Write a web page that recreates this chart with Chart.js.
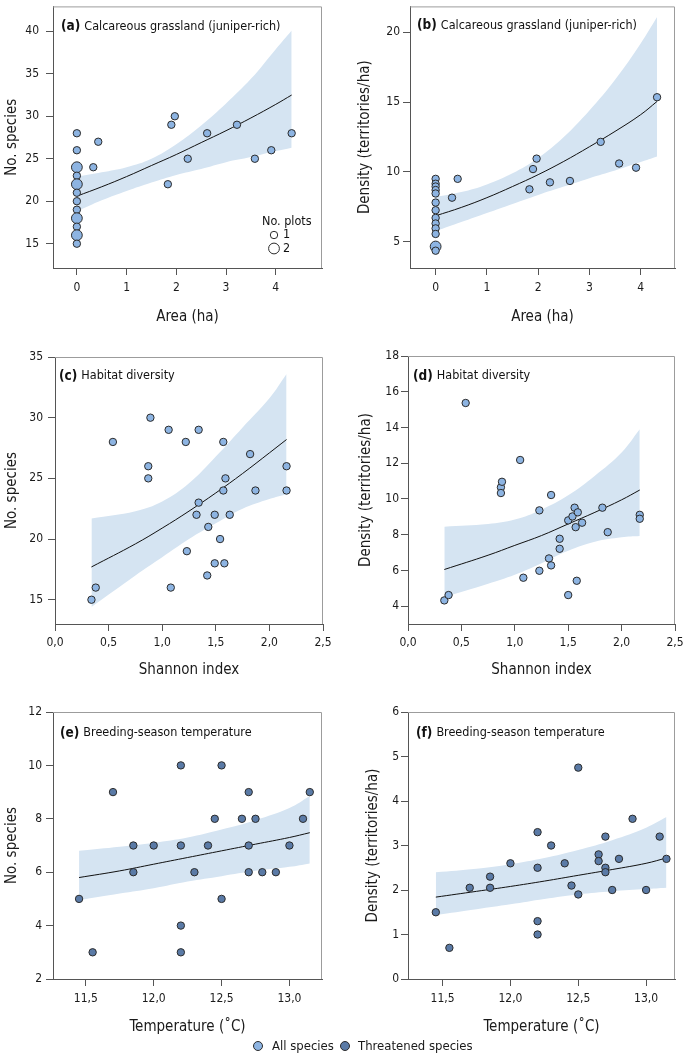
<!DOCTYPE html>
<html>
<head>
<meta charset="utf-8">
<script src="https://cdn.jsdelivr.net/npm/chart.js@4.4.1/dist/chart.umd.min.js"></script>
<style>
  body { margin:0; background:#fff; width:685px; height:1055px; position:relative; overflow:hidden;
         font-family:"DejaVu Sans Condensed","DejaVu Sans",sans-serif; color:#1a1a1a; }
  canvas { position:absolute; }
  .dot { position:absolute; width:8px; height:8px; border:1px solid #2b2b2b; border-radius:50%; }
  .lab { position:absolute; font-size:13px; line-height:16px; }
</style>
</head>
<body>
<canvas id="pa"></canvas>
<canvas id="pb"></canvas>
<canvas id="pc"></canvas>
<canvas id="pd"></canvas>
<canvas id="pe"></canvas>
<canvas id="pf"></canvas>

<div class="dot" style="left:253px;top:1041px;background:#8db4e2"></div>
<div class="lab" style="left:272px;top:1038px">All species</div>
<div class="dot" style="left:340px;top:1041px;background:#5a7aa6"></div>
<div class="lab" style="left:358px;top:1038px">Threatened species</div>

<script>
const FONT = '"DejaVu Sans Condensed","DejaVu Sans",sans-serif';
const ALL = '#8db4e2', THR = '#5a7aa6', BAND = '#d5e4f2', EDGE = '#2b2b2b', AXIS = '#555';

// (a) no. species vs calcareous grassland area
const areaA    = [0,0,0,0,0,0,0,0,0,0,0,0, 0.33,0.43,1.83,1.90,1.97,2.23,2.62,3.22,3.58,3.91,4.32];
const speciesA = [28,26,24,23,22,21,20,19,18,17,16,15, 24,27,22,29,30,25,28,29,25,26,28];
const plotsA   = [1,1,2,1,2,1,1,1,2,1,2,1, 1,1,1,1,1,1,1,1,1,1,1];
const fitAreaA  = [0, 0.5, 1, 1.5, 2, 2.5, 3, 3.5, 4, 4.32];
const fitSpeciesA = [20.6, 21.7, 22.9, 24.2, 25.5, 26.9, 28.3, 29.8, 31.4, 32.5];
const loSpeciesA  = [18.8, 20.1, 21.2, 22.2, 23.1, 23.8, 24.6, 25.2, 25.9, 26.3];
const hiSpeciesA  = [22.9, 23.4, 24.0, 25.0, 26.7, 28.9, 31.5, 34.4, 37.9, 40.1];

// (b) density vs calcareous grassland area
const areaB    = [0,0,0,0,0,0,0,0,0,0,0,0,0, 0.32,0.43,1.83,1.90,1.97,2.23,2.62,3.22,3.58,3.91,4.32];
const densityB = [9.5,9.15,8.95,8.7,8.45,7.8,7.25,6.7,6.3,5.95,5.55,4.65,4.35, 8.15,9.5,8.75,10.2,10.95,9.25,9.35,12.15,10.6,10.3,15.35];
const plotsB   = [1,1,1,1,1,1,1,1,1,1,1,2,1, 1,1,1,1,1,1,1,1,1,1,1];
const fitAreaB   = [0, 0.5, 1, 1.5, 2, 2.5, 3, 3.5, 4, 4.32];
const fitDensityB = [6.85, 7.45, 8.15, 8.95, 9.8, 10.75, 11.8, 12.9, 14.1, 15.05];
const loDensityB  = [5.75, 6.4, 7.05, 7.7, 8.35, 8.95, 9.55, 10.1, 10.7, 11.1];
const hiDensityB  = [8.2, 8.55, 9.1, 9.9, 11.0, 12.5, 14.4, 16.6, 19.2, 21.1];

// (c) no. species vs habitat diversity
const shannonC = [0.34,0.38,0.54,0.87,0.87,0.89,1.06,1.08,1.22,1.23,1.32,1.34,1.34,1.42,1.43,1.49,1.49,1.54,1.57,1.57,1.58,1.59,1.63,1.82,1.87,2.16,2.16];
const speciesC = [15,16,28,26,25,30,29,16,28,19,22,23,29,17,21,22,18,20,28,24,18,25,22,27,24,26,24];
const fitShannonC = [0.34, 0.75, 1.0, 1.25, 1.5, 1.75, 2.0, 2.16];
const fitSpeciesC = [17.7, 19.6, 20.9, 22.3, 23.8, 25.4, 27.1, 28.2];
const loSpeciesC  = [14.4, 17.0, 18.5, 20.0, 21.3, 22.5, 23.3, 23.7];
const hiSpeciesC  = [21.7, 22.3, 23.1, 24.6, 26.8, 29.2, 31.6, 33.6];

// (d) density vs habitat diversity
const shannonD = [0.34,0.38,0.54,0.87,0.87,0.88,1.05,1.08,1.23,1.23,1.32,1.34,1.34,1.42,1.42,1.50,1.50,1.54,1.56,1.57,1.58,1.59,1.63,1.82,1.87,2.17,2.17];
const densityD = [4.32,4.62,15.37,10.65,10.33,10.96,12.18,5.59,9.36,5.98,6.67,6.28,10.22,7.77,7.21,8.80,4.62,9.02,9.51,8.42,5.42,9.25,8.67,9.51,8.14,9.11,8.89];
const fitShannonD = [0.34, 0.75, 1.0, 1.25, 1.5, 1.75, 2.0, 2.17];
const fitDensityD = [6.05, 6.85, 7.4, 7.95, 8.6, 9.25, 9.95, 10.5];
const loDensityD  = [4.5, 5.25, 5.75, 6.4, 7.1, 7.6, 7.85, 7.92];
const hiDensityD  = [8.45, 8.6, 8.85, 9.4, 10.2, 11.3, 12.6, 13.9];

// (e) no. threatened species vs breeding-season temperature
const tempE    = [11.45,11.55,11.70,11.85,11.85,12.0,12.2,12.2,12.2,12.2,12.3,12.4,12.45,12.5,12.5,12.65,12.7,12.7,12.7,12.75,12.8,12.9,13.0,13.1,13.15];
const speciesE = [5,3,9,7,6,7,10,7,4,3,6,7,8,10,5,8,9,7,6,8,6,6,7,8,9];
const fitTempE    = [11.45, 11.75, 12.0, 12.25, 12.5, 12.75, 13.0, 13.15];
const fitSpeciesE = [5.8, 6.05, 6.3, 6.55, 6.8, 7.05, 7.3, 7.48];
const loSpeciesE  = [4.95, 5.2, 5.4, 5.65, 5.85, 6.05, 6.2, 6.33];
const hiSpeciesE  = [6.8, 6.95, 7.1, 7.3, 7.6, 7.95, 8.4, 8.85];

// (f) threatened density vs breeding-season temperature
const tempF    = [11.45,11.55,11.70,11.85,11.85,12.0,12.2,12.2,12.2,12.2,12.3,12.4,12.45,12.5,12.5,12.65,12.65,12.7,12.7,12.7,12.75,12.8,12.9,13.0,13.1,13.15];
const densityF = [1.5,0.7,2.05,2.3,2.05,2.6,3.3,2.5,1.3,1.0,3.0,2.6,2.1,4.75,1.9,2.8,2.65,3.2,2.5,2.4,2.0,2.7,3.6,2.0,3.2,2.7];
const fitTempF    = [11.45, 11.75, 12.0, 12.25, 12.5, 12.75, 13.0, 13.15];
const fitDensityF = [1.84, 1.97, 2.08, 2.2, 2.33, 2.46, 2.6, 2.72];
const loDensityF  = [1.44, 1.57, 1.68, 1.8, 1.9, 1.97, 2.02, 2.05];
const hiDensityF  = [2.4, 2.48, 2.58, 2.72, 2.9, 3.12, 3.4, 3.64];

// tick values
const ticksArea     = [0, 1, 2, 3, 4];
const ticksShannon  = [0, 0.5, 1, 1.5, 2, 2.5];
const ticksTemp     = [11.5, 12, 12.5, 13];
const ticksSpeciesA = [15, 20, 25, 30, 35, 40];
const ticksDensityB = [5, 10, 15, 20];
const ticksSpeciesC = [15, 20, 25, 30, 35];
const ticksDensityD = [4, 6, 8, 10, 12, 14, 16, 18];
const ticksSpeciesE = [2, 4, 6, 8, 10, 12];
const ticksDensityF = [0, 1, 2, 3, 4, 5, 6];

Chart.defaults.font.family = FONT;
Chart.defaults.color = '#1a1a1a';

const fmt = (v, d) => Number(v).toFixed(d).replace('.', ',');
const pts = (xs, ys) => xs.map((x, i) => ({x, y: ys[i]}));
const sizeOf = n => (n === 2 ? 5.4 : 3.7);

// frame, panel heading, size key
const deco = {
  id: 'deco',
  afterDraw(chart, args, o) {
    const {ctx, chartArea: a} = chart;
    ctx.save();
    ctx.strokeStyle = '#9c9c9c';
    ctx.lineWidth = 1;
    ctx.beginPath();
    ctx.moveTo(a.left, a.top + 0.5);
    ctx.lineTo(a.right - 0.5, a.top + 0.5);
    ctx.lineTo(a.right - 0.5, a.bottom);
    ctx.stroke();

    ctx.fillStyle = '#111';
    ctx.textBaseline = 'middle';
    ctx.font = 'bold 13.5px ' + FONT;
    const x = a.left + o.tx, y = a.top + o.ty;
    ctx.fillText(o.tag, x, y);
    const w = ctx.measureText(o.tag).width;
    ctx.font = '12.5px ' + FONT;
    ctx.fillText(o.title, x + w + 4, y);

    if (o.sizeKey) {
      ctx.fillText('No. plots', a.right - 60, a.bottom - 46);
      [1, 2].forEach((n, i) => {
        const cy = a.bottom - (i ? 19.5 : 33);
        ctx.beginPath();
        ctx.arc(a.right - 48, cy, sizeOf(n), 0, Math.PI * 2);
        ctx.fillStyle = '#fff';
        ctx.fill();
        ctx.strokeStyle = EDGE;
        ctx.stroke();
        ctx.fillStyle = '#111';
        ctx.fillText(String(n), a.right - 39, cy);
      });
    }
    ctx.restore();
  }
};

function panel(p) {
  const cv = document.getElementById(p.id);
  const [cl, ct, cw, ch] = p.box;
  const [L, T, R, B] = p.area;
  cv.width = cw; cv.height = ch;
  cv.style.left = cl + 'px'; cv.style.top = ct + 'px';
  const line = {showLine: true, pointRadius: 0, tension: 0.4};
  new Chart(cv, {
    type: 'scatter',
    data: {datasets: [
      {data: pts(p.x, p.y), backgroundColor: p.color, borderColor: EDGE, borderWidth: 1,
       pointRadius: p.plots ? c => sizeOf(p.plots[c.dataIndex]) : 3.7},
      {...line, data: pts(p.fx, p.fy), borderColor: '#111', borderWidth: 1},
      {...line, data: pts(p.fx, p.lo), borderColor: 'rgba(0,0,0,0)', borderWidth: 0},
      {...line, data: pts(p.fx, p.hi), borderColor: 'rgba(0,0,0,0)', borderWidth: 0,
       fill: '-1', backgroundColor: BAND}
    ]},
    options: {
      responsive: false, animation: false, events: [],
      layout: {padding: {left: 0, top: T - ct, right: cl + cw - R, bottom: 0}},
      plugins: {legend: {display: false}, tooltip: {enabled: false},
                deco: {tag: p.tag, title: p.title, tx: p.tx, ty: p.ty, sizeKey: p.id === 'pa'}},
      scales: {
        x: {
          type: 'linear', min: p.xr[0], max: p.xr[1],
          afterBuildTicks: s => { s.ticks = p.xt.map(v => ({value: v})); },
          afterFit: s => { s.height = ct + ch - B; s.paddingLeft = 0; s.paddingRight = 0; },
          ticks: {callback: v => fmt(v, p.xd), padding: p.xpad, font: {size: 12}, maxRotation: 0, autoSkip: false},
          grid: {drawOnChartArea: false, tickLength: 7, color: AXIS},
          border: {color: AXIS},
          title: {display: true, text: p.xtitle, font: {size: 15}, padding: {top: 0, bottom: p.xtpad}}
        },
        y: {
          min: p.yr[0], max: p.yr[1],
          afterBuildTicks: s => { s.ticks = p.yt.map(v => ({value: v})); },
          afterFit: s => { s.width = L - cl; s.paddingTop = 0; s.paddingBottom = 0; },
          ticks: {callback: v => fmt(v, 0), padding: p.ypad, font: {size: 12}, autoSkip: false},
          grid: {drawOnChartArea: false, tickLength: 7, color: AXIS},
          border: {color: AXIS},
          title: {display: true, text: p.ytitle, font: {size: 15}, padding: {top: p.ytpad, bottom: 0}}
        }
      }
    },
    plugins: [deco]
  });
}

const DENS = 'Density (territories/ha)';

panel({id: 'pa', box: [0, 0, 340, 330], area: [53, 2, 322, 268],
  x: areaA, y: speciesA, plots: plotsA, color: ALL,
  fx: fitAreaA, fy: fitSpeciesA, lo: loSpeciesA, hi: hiSpeciesA,
  xr: [-0.48, 4.93], yr: [12.14, 42.93], xt: ticksArea, yt: ticksSpeciesA, xd: 0,
  xtitle: 'Area (ha)', ytitle: 'No. species', xpad: 6, ypad: 7, xtpad: 4, ytpad: 3,
  tag: '(a)', title: 'Calcareous grassland (juniper-rich)', tx: 8, ty: 20});

panel({id: 'pb', box: [340, 0, 345, 330], area: [410, 3, 675, 268],
  x: areaB, y: densityB, plots: plotsB, color: ALL,
  fx: fitAreaB, fy: fitDensityB, lo: loDensityB, hi: hiDensityB,
  xr: [-0.5, 4.67], yr: [3.11, 21.86], xt: ticksArea, yt: ticksDensityB, xd: 0,
  xtitle: 'Area (ha)', ytitle: DENS, xpad: 6, ypad: 3, xtpad: 4, ytpad: 16,
  tag: '(b)', title: 'Calcareous grassland (juniper-rich)', tx: 7, ty: 19});

panel({id: 'pc', box: [0, 330, 340, 350], area: [55, 357, 323, 624],
  x: shannonC, y: speciesC, color: ALL,
  fx: fitShannonC, fy: fitSpeciesC, lo: loSpeciesC, hi: hiSpeciesC,
  xr: [0, 2.5], yr: [13, 35], xt: ticksShannon, yt: ticksSpeciesC, xd: 1,
  xtitle: 'Shannon index', ytitle: 'No. species', xpad: 5, ypad: 5, xtpad: 1, ytpad: 3,
  tag: '(c)', title: 'Habitat diversity', tx: 4, ty: 19});

panel({id: 'pd', box: [340, 330, 345, 350], area: [408, 356, 675, 624],
  x: shannonD, y: densityD, color: ALL,
  fx: fitShannonD, fy: fitDensityD, lo: loDensityD, hi: hiDensityD,
  xr: [0, 2.5], yr: [3, 18], xt: ticksShannon, yt: ticksDensityD, xd: 1,
  xtitle: 'Shannon index', ytitle: DENS, xpad: 5, ypad: 2, xtpad: 1, ytpad: 17,
  tag: '(d)', title: 'Habitat diversity', tx: 5, ty: 20});

panel({id: 'pe', box: [0, 685, 340, 360], area: [53, 712, 322, 979],
  x: tempE, y: speciesE, color: THR,
  fx: fitTempE, fy: fitSpeciesE, lo: loSpeciesE, hi: hiSpeciesE,
  xr: [11.258, 13.24], yr: [2, 12], xt: ticksTemp, yt: ticksSpeciesE, xd: 1,
  xtitle: 'Temperature (\u02DAC)', ytitle: 'No. species', xpad: 6, ypad: 4, xtpad: 9, ytpad: 3,
  tag: '(e)', title: 'Breeding-season temperature', tx: 7, ty: 21});

panel({id: 'pf', box: [340, 685, 345, 360], area: [408, 712, 675, 979],
  x: tempF, y: densityF, color: THR,
  fx: fitTempF, fy: fitDensityF, lo: loDensityF, hi: hiDensityF,
  xr: [11.245, 13.213], yr: [0, 6], xt: ticksTemp, yt: ticksDensityF, xd: 1,
  xtitle: 'Temperature (\u02DAC)', ytitle: DENS, xpad: 6, ypad: 2, xtpad: 9, ytpad: 24,
  tag: '(f)', title: 'Breeding-season temperature', tx: 8, ty: 21});
</script>
</body>
</html>
